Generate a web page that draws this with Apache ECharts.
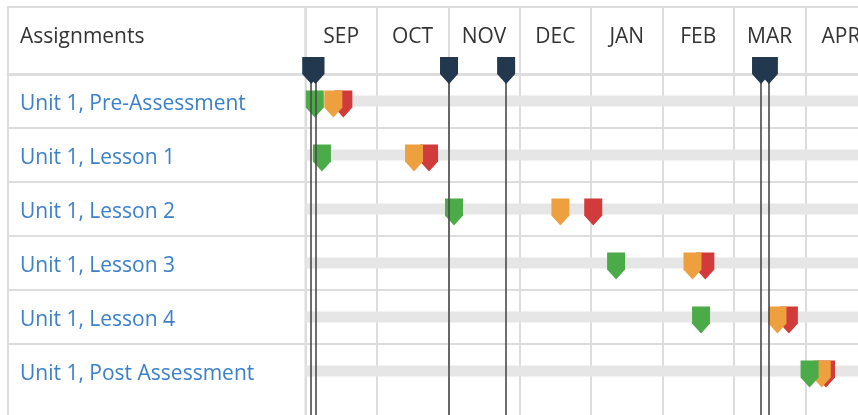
<!DOCTYPE html>
<html>
<head>
<meta charset="utf-8">
<script src="https://cdn.jsdelivr.net/npm/echarts@6/dist/echarts.min.js"></script>
<style>
  html, body { margin: 0; padding: 0; background: #fff; }
  #chart { width: 858px; height: 415px; }
</style>
</head>
<body>
<div id="chart"></div>
<script>
// ---- data (x positions in months from the start of SEP) ----
const MONTHS = ['SEP', 'OCT', 'NOV', 'DEC', 'JAN', 'FEB', 'MAR', 'APR'];
const ASSIGNMENTS = [
  'Unit 1, Pre-Assessment',
  'Unit 1, Lesson 1',
  'Unit 1, Lesson 2',
  'Unit 1, Lesson 3',
  'Unit 1, Lesson 4',
  'Unit 1, Post Assessment'
];
const GREEN_POS = [0.13, 0.23, 2.08, 4.35, 5.54, 7.06];
const ORANGE_POS = [0.39, 1.52, 3.57, 5.42, 6.61, 7.23];
const RED_POS = [0.53, 1.73, 4.03, 5.60, 6.77, 7.29];
const DUE_DATES = [0.08, 0.14, 2.01, 2.81, 6.38, 6.49];

const FONT = '"Open Sans", "Noto Sans", sans-serif';
const LINE = '#dddddd';
const PIN = 'path://M0 0H18V17L9 27L0 17Z';
const COL_W = 71.4;
const LEFT = 305.5;
const ROW_H = 54;
const MAIN_TOP = 74;

const rows = (arr) => arr.map((v, i) => [v, i]);

const chart = echarts.init(document.getElementById('chart'), null, { renderer: 'canvas' });
chart.setOption({
  animation: false,
  backgroundColor: '#fff',
  title: {
    text: 'Assignments', left: 15, top: 22,
    textStyle: { fontFamily: FONT, fontSize: 21, fontWeight: 'normal', color: '#333' }
  },
  grid: [
    { left: LEFT, top: 7, width: COL_W * MONTHS.length, height: MAIN_TOP - 7, show: true, borderColor: LINE, borderWidth: 2, outerBoundsMode: 'none' },
    { left: LEFT, top: MAIN_TOP, width: COL_W * MONTHS.length, height: ROW_H * (ASSIGNMENTS.length + 1), outerBoundsMode: 'none' },
    { left: 8, top: MAIN_TOP, width: LEFT - 8, height: ROW_H * (ASSIGNMENTS.length + 1), show: true, borderColor: LINE, borderWidth: 2, outerBoundsMode: 'none' },
    { left: 8, top: 7, width: LEFT - 8, height: MAIN_TOP - 7, show: true, borderColor: LINE, borderWidth: 2, outerBoundsMode: 'none' }
  ],
  xAxis: [
    { gridIndex: 0, type: 'category', data: MONTHS, position: 'bottom',
      axisLine: { show: false }, axisTick: { show: false },
      axisLabel: { inside: true, margin: 26, fontFamily: FONT, fontSize: 21, color: '#333' },
      splitLine: { show: true, lineStyle: { color: LINE, width: 2 } } },
    { gridIndex: 1, type: 'category', data: MONTHS, position: 'top',
      axisLine: { show: true, lineStyle: { color: LINE, width: 3 } }, axisTick: { show: false },
      axisLabel: { show: false },
      splitLine: { show: true, lineStyle: { color: LINE, width: 2 } } },
    { gridIndex: 1, type: 'value', min: 0, max: MONTHS.length, position: 'bottom', show: false },
    { gridIndex: 2, type: 'value', min: 0, max: 1, position: 'top',
      axisLine: { show: true, lineStyle: { color: LINE, width: 3 } }, axisTick: { show: false },
      axisLabel: { show: false }, splitLine: { show: false } },
    { gridIndex: 3, type: 'value', min: 0, max: 1, show: false },
    { gridIndex: 0, type: 'value', min: 0, max: MONTHS.length, position: 'top', show: false }
  ],
  yAxis: [
    { gridIndex: 0, type: 'value', min: 0, max: 1, show: false },
    { gridIndex: 1, type: 'category', data: ASSIGNMENTS, inverse: true, max: ASSIGNMENTS.length,
      axisLine: { show: false }, axisTick: { show: false }, axisLabel: { show: false },
      splitLine: { show: true, showMaxLine: false,
        interval: (i) => i >= 1 && i < ASSIGNMENTS.length,
        lineStyle: { color: LINE, width: 2 } } },
    { gridIndex: 2, type: 'category', data: ASSIGNMENTS, inverse: true, max: ASSIGNMENTS.length,
      axisLine: { show: false }, axisTick: { show: false },
      axisLabel: { inside: true, margin: 12, align: 'left', verticalAlign: 'top', lineHeight: 6,
        fontFamily: FONT, fontSize: 21, color: '#3b80c8',
        interval: 0, formatter: (v) => v || '' },
      splitLine: { show: true, showMaxLine: false,
        interval: (i) => i >= 1 && i < ASSIGNMENTS.length,
        lineStyle: { color: LINE, width: 2 } } },
    { gridIndex: 3, type: 'value', min: 0, max: 1, show: false }
  ],
  series: [
    { type: 'bar', xAxisIndex: 2, yAxisIndex: 1, silent: true, z: 1,
      data: ASSIGNMENTS.map(() => MONTHS.length), barWidth: 11,
      itemStyle: { color: '#e6e6e6' } },
    { type: 'scatter', xAxisIndex: 2, yAxisIndex: 1, z: 2, symbol: PIN, symbolSize: [18, 27], symbolOffset: [0, 3],
      data: rows(RED_POS), itemStyle: { color: '#d13b3b', opacity: 1 } },
    { type: 'scatter', xAxisIndex: 2, yAxisIndex: 1, z: 3, symbol: PIN, symbolSize: [18, 27], symbolOffset: [0, 3],
      data: rows(ORANGE_POS), itemStyle: { color: '#efa03e', opacity: 1 } },
    { type: 'scatter', xAxisIndex: 2, yAxisIndex: 1, z: 4, symbol: PIN, symbolSize: [18, 27], symbolOffset: [0, 3],
      data: rows(GREEN_POS), itemStyle: { color: '#4aab48', opacity: 1 } },
    { type: 'scatter', xAxisIndex: 2, yAxisIndex: 1, z: 5, data: [], silent: true,
      markLine: { silent: true, symbol: 'none', label: { show: false },
        lineStyle: { color: '#4a4a4a', width: 1.6, type: 'solid' },
        data: DUE_DATES.map((v) => ({ xAxis: v })) } },
    { type: 'scatter', xAxisIndex: 5, yAxisIndex: 0, z: 6, clip: false, symbol: PIN, symbolSize: [18, 27], symbolOffset: [0, -3.5],
      data: DUE_DATES.map((v) => [v, 0]), itemStyle: { color: '#22384f', opacity: 1 } }
  ]
});
</script>
</body>
</html>
